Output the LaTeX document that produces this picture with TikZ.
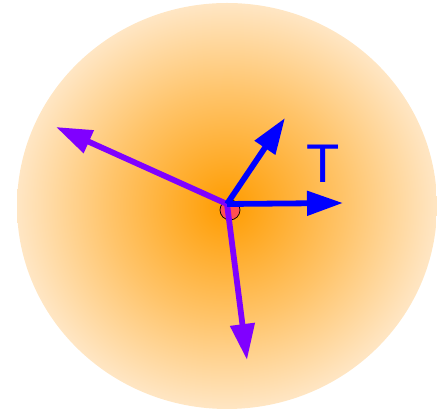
\documentclass[tikz,border=0pt]{standalone}
\usepackage{fontspec}
\setsansfont{Liberation Sans}
\usetikzlibrary{arrows.meta}
\definecolor{glowin}{HTML}{FF9C00}
\definecolor{glowmid}{HTML}{FFC46A}
\definecolor{glowout}{HTML}{FFE6C4}
\definecolor{forcecol}{HTML}{8000FF}
\definecolor{velcol}{HTML}{0000FF}
\definecolor{dotcol}{HTML}{FF5050}
\pgfdeclareradialshading{glow}{\pgfpoint{0bp}{0bp}}{color(0bp)=(glowin); color(14bp)=(glowmid); color(25bp)=(glowout); color(50bp)=(glowout)}
\tikzset{
  force/.style={-{Triangle[length=20.5pt,width=13.5pt]},line width=3.3pt,forcecol},
  vel/.style={-{Triangle[length=20.5pt,width=13.5pt]},line width=3.3pt,velcol},
  tlabel/.style={font=\sffamily\fontsize{31}{31}\selectfont,text=velcol,inner sep=0pt}
}
\begin{document}
\begin{tikzpicture}[x=0.02cm,y=-0.02cm]
  \useasboundingbox (0,0) rectangle (437,411);
  % body
  \shade[shading=glow] (227,206) ellipse [x radius=210,y radius=203];
  \filldraw[fill=dotcol,draw=black,line width=0.4pt] (230,210) circle [radius=10];
  % vectors
  \coordinate (o) at (227,204);
  \coordinate (f1) at (56,127);
  \coordinate (f2) at (247,360);
  \coordinate (v1) at (285,118);
  \coordinate (v2) at (343,203);
  \draw[force] (o) -- (f1);
  \draw[force] (o) -- (f2);
  \draw[vel] (o) -- (v1);
  \draw[vel] (o) -- (v2);
  \node[tlabel] (tl) at (323,164) {T};
\end{tikzpicture}
\end{document}
